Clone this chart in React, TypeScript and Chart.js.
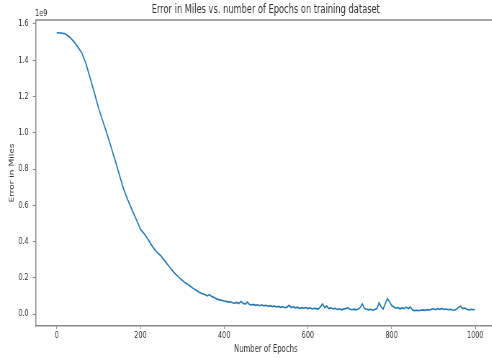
import React, { useEffect, useRef } from "react";
import { Chart, registerables } from "chart.js";

Chart.register(...registerables);

// ---- data ----
const TITLE = "Error in Miles vs. number of Epochs on training dataset";
const X_LABEL = "Number of Epochs";
const Y_LABEL = "Error in Miles";
const Y_OFFSET_LABEL = "1e9";

const epochs: number[] = [
  0, 10, 20, 30, 40, 50, 60, 70, 80, 90, 100, 110, 120, 130, 140, 150, 160, 170, 180, 190,
  200, 210, 220, 230, 240, 250, 260, 270, 280, 290, 300,
  305, 310, 315, 320, 325, 330, 335, 340, 345, 350, 355, 360, 365, 370, 375, 380, 385, 390, 395,
  400, 405, 410, 415, 420, 425, 430, 435, 440, 445, 450, 455, 460, 465, 470, 475, 480, 485, 490, 495,
  500, 505, 510, 515, 520, 525, 530, 535, 540, 545, 550, 555, 560, 565, 570, 575, 580, 585, 590, 595,
  600, 605, 610, 615, 620, 625, 630, 635, 640, 645, 650, 655, 660, 665, 670, 675, 680, 685, 690, 695,
  700, 705, 710, 715, 720, 725, 730, 735, 740, 745, 750, 755, 760, 765, 770, 775, 780, 785, 790, 795,
  800, 805, 810, 815, 820, 825, 830, 835, 840, 845, 850, 855, 860, 865, 870, 875, 880, 885, 890, 895,
  900, 905, 910, 915, 920, 925, 930, 935, 940, 945, 950, 955, 960, 965, 970, 975, 980, 985, 990, 995,
  999,
];

// error in units of 1e9 miles
const errorE9: number[] = [
  1.552, 1.55, 1.546, 1.53, 1.505, 1.475, 1.44, 1.38, 1.3, 1.22, 1.135, 1.065, 0.995, 0.92, 0.845, 0.765, 0.688, 0.628, 0.574, 0.522,
  0.468, 0.44, 0.405, 0.368, 0.34, 0.318, 0.288, 0.258, 0.23, 0.206, 0.186,
  0.176, 0.168, 0.161, 0.152, 0.143, 0.136, 0.128, 0.12, 0.115, 0.11, 0.106, 0.1, 0.107, 0.097, 0.093, 0.086, 0.081, 0.078, 0.075,
  0.072, 0.07, 0.066, 0.068, 0.062, 0.06, 0.064, 0.058, 0.07, 0.06, 0.055, 0.066, 0.054, 0.05, 0.053, 0.048, 0.051, 0.046, 0.051, 0.045,
  0.048, 0.043, 0.046, 0.041, 0.044, 0.039, 0.042, 0.037, 0.041, 0.035, 0.038, 0.048, 0.036, 0.04, 0.034, 0.038, 0.031, 0.035, 0.032, 0.036,
  0.03, 0.034, 0.028, 0.032, 0.03, 0.027, 0.04, 0.056, 0.036, 0.044, 0.03, 0.034, 0.028, 0.032, 0.025, 0.029, 0.023, 0.027, 0.03, 0.034,
  0.028, 0.024, 0.027, 0.023, 0.028, 0.035, 0.056, 0.032, 0.026, 0.023, 0.026, 0.021, 0.025, 0.03, 0.062, 0.04, 0.028, 0.058, 0.085, 0.068,
  0.048, 0.04, 0.032, 0.036, 0.029, 0.034, 0.03, 0.038, 0.03, 0.039, 0.022, 0.019, 0.021, 0.018, 0.021, 0.023, 0.02, 0.024, 0.022, 0.026,
  0.029, 0.024, 0.03, 0.026, 0.031, 0.025, 0.028, 0.024, 0.026, 0.022, 0.021, 0.026, 0.038, 0.044, 0.03, 0.033, 0.026, 0.022, 0.026, 0.024,
  0.025,
];

const xTicks: number[] = [0, 200, 400, 600, 800, 1000];
const yTicks: number[] = [0, 0.2, 0.4, 0.6, 0.8, 1.0, 1.2, 1.4, 1.6];

// ---- styling / layout ----
const SQUASH = 0.72; // horizontal compression of the whole figure
const CANVAS_W = 700;
const CANVAS_H = 358;
const LINE = "#1f77b4";
const SPINE = "#8a8a8a";
const TEXT = "#333333";
const FONT = "'DejaVu Sans', sans-serif";

const decor = {
  id: "decor",
  afterDraw(chart: any) {
    const { ctx, chartArea: a } = chart;
    ctx.save();
    ctx.strokeStyle = SPINE;
    ctx.lineWidth = 1.5;
    ctx.beginPath();
    ctx.moveTo(a.left, a.top);
    ctx.lineTo(a.right, a.top);
    ctx.lineTo(a.right, a.bottom);
    ctx.stroke();
    ctx.fillStyle = TEXT;
    ctx.textBaseline = "middle";
    ctx.textAlign = "center";
    ctx.font = `11.5px ${FONT}`;
    ctx.fillText(TITLE, (a.left + a.right) / 2, 10);
    ctx.textAlign = "left";
    ctx.font = `9px ${FONT}`;
    ctx.fillText(Y_OFFSET_LABEL, a.left - 1, 13.5);
    ctx.restore();
  },
};

export default function App() {
  const ref = useRef<HTMLCanvasElement | null>(null);

  useEffect(() => {
    if (!ref.current) return;
    const points = epochs.map((e, i) => ({ x: e, y: errorE9[i] }));
    const chart = new Chart(ref.current, {
      type: "line",
      data: {
        datasets: [
          {
            data: points,
            borderColor: LINE,
            borderWidth: 1.6,
            pointRadius: 0,
            tension: 0,
            fill: false,
          },
        ],
      },
      options: {
        animation: false,
        responsive: false,
        devicePixelRatio: 1,
        layout: { padding: { left: 0, right: CANVAS_W - 688.6, top: 20, bottom: 0 } },
        plugins: {
          legend: { display: false },
          title: { display: false },
          tooltip: { enabled: false },
        },
        scales: {
          x: {
            type: "linear",
            min: -50,
            max: 1049,
            afterBuildTicks: (s: any) => {
              s.ticks = xTicks.map((v) => ({ value: v }));
            },
            afterFit: (s: any) => {
              s.height = 32;
            },
            ticks: {
              autoSkip: false,
              maxRotation: 0,
              padding: 1,
              color: TEXT,
              font: { family: FONT, size: 9 },
              callback: (v: any) => String(v),
            },
            grid: {
              display: true,
              drawOnChartArea: false,
              drawTicks: true,
              tickLength: 3,
              tickColor: SPINE,
              lineWidth: 1,
            },
            border: { display: true, color: SPINE, width: 1.5 },
            title: {
              display: true,
              text: X_LABEL,
              color: TEXT,
              font: { family: FONT, size: 9.6 },
              padding: { top: 0, bottom: 2.4 },
            },
          },
          y: {
            type: "linear",
            min: -0.066,
            max: 1.622,
            afterBuildTicks: (s: any) => {
              s.ticks = yTicks.map((v) => ({ value: v }));
            },
            afterFit: (s: any) => {
              s.width = 49.7;
            },
            ticks: {
              autoSkip: false,
              padding: 6,
              color: TEXT,
              font: { family: FONT, size: 9 },
              callback: (v: any) => Number(v).toFixed(1),
            },
            grid: {
              display: true,
              drawOnChartArea: false,
              drawTicks: true,
              tickLength: 4,
              tickColor: SPINE,
              lineWidth: 1,
            },
            border: { display: true, color: SPINE, width: 1.5 },
            title: {
              display: true,
              text: Y_LABEL,
              color: TEXT,
              font: { family: FONT, size: 9 },
              padding: { top: 11, bottom: 0 },
            },
          },
        },
      },
      plugins: [decor],
    });
    return () => chart.destroy();
  }, []);

  return (
    <div
      style={{
        position: "fixed",
        left: 0,
        top: 0,
        width: 492,
        height: 358,
        overflow: "hidden",
        background: "#ffffff",
      }}
    >
      <canvas
        ref={ref}
        width={CANVAS_W}
        height={CANVAS_H}
        style={{
          display: "block",
          width: CANVAS_W,
          height: CANVAS_H,
          transform: `scaleX(${SQUASH})`,
          transformOrigin: "0 0",
        }}
      />
    </div>
  );
}
